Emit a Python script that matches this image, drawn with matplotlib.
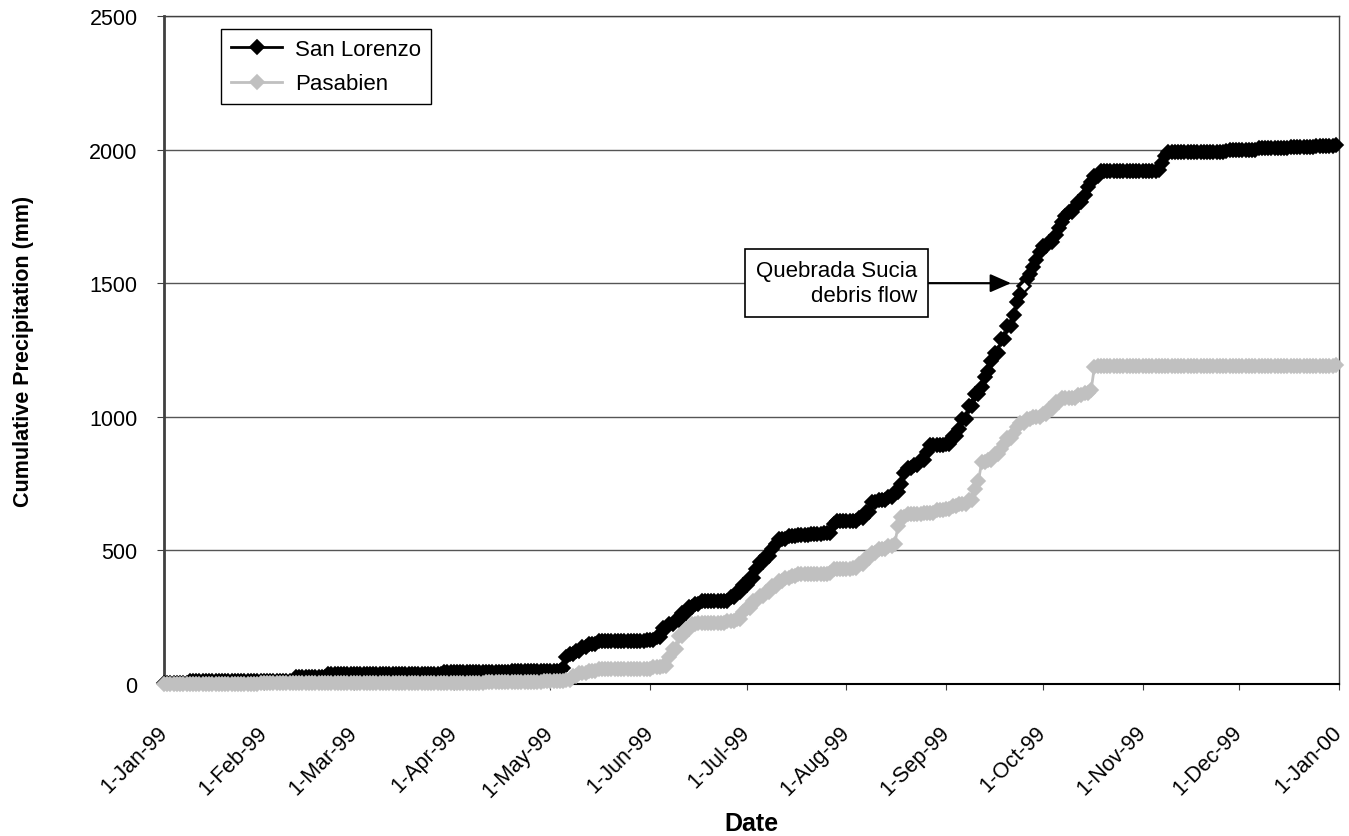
"""Cumulative precipitation in 1999 at San Lorenzo and Pasabien."""

import numpy as np
import pandas as pd
import matplotlib
matplotlib.use('Agg')
import matplotlib.pyplot as plt

plt.rcParams['font.family'] = ['Liberation Sans', 'DejaVu Sans']

# day of year (0 = 1-Jan-99) on which the running total changes, and the total after that day (mm)
sl_day = [0, 8, 41, 51, 87, 108, 124, 125, 126, 128, 130, 132, 135, 150, 153, 155, 157, 159, 161, 163,
          165, 167, 174, 176, 178, 180, 182, 184, 185, 187, 189, 190, 191, 194, 197, 201, 205, 208, 209,
          216, 218, 220, 222, 225, 227, 229, 230, 231, 233, 235, 237, 238, 243, 245, 247, 248, 250, 252,
          254, 255, 256, 257, 258, 260, 262, 264, 265, 266, 267, 268, 269, 270, 271, 272, 273, 275, 277,
          278, 279, 280, 281, 283, 284, 286, 287, 288, 289, 291, 309, 310, 311, 312, 330, 331, 340, 350,
          358, 364]
sl_total = [2, 10, 25, 38, 45, 50, 60, 100, 112, 125, 140, 150, 160, 165, 175, 210, 225, 240, 265, 288,
            300, 310, 312, 325, 345, 370, 395, 430, 455, 480, 505, 525, 543, 555, 557, 560, 565, 600, 610,
            620, 645, 680, 690, 700, 720, 750, 790, 810, 820, 840, 870, 895, 900, 930, 955, 990, 1040, 1085,
            1110, 1150, 1170, 1210, 1240, 1290, 1340, 1380, 1430, 1460, 1490, 1515, 1535, 1560, 1585, 1615,
            1640, 1655, 1680, 1705, 1730, 1750, 1765, 1785, 1805, 1830, 1860, 1880, 1900, 1920, 1925, 1950,
            1975, 1990, 1995, 2000, 2005, 2010, 2015, 2018]

pb_day = [0, 30, 60, 100, 118, 125, 127, 129, 132, 135, 148, 152, 155, 157, 158, 160, 162, 164, 166,
          175, 178, 180, 181, 183, 185, 187, 189, 191, 193, 195, 197, 207, 208, 214, 216, 218, 220, 222,
          225, 227, 228, 229, 231, 236, 240, 243, 245, 247, 250, 252, 253, 254, 256, 258, 260, 261, 262,
          264, 265, 266, 268, 270, 273, 275, 277, 279, 284, 286, 288, 289, 290, 364]
pb_total = [0, 3, 5, 8, 10, 15, 30, 40, 48, 55, 58, 62, 68, 100, 130, 180, 205, 225, 230,
            235, 245, 270, 285, 310, 330, 345, 365, 385, 395, 405, 410, 415, 430, 435, 450, 470, 490, 505,
            515, 525, 590, 625, 635, 640, 650, 655, 665, 675, 690, 730, 760, 830, 840, 860, 880, 900, 920,
            940, 960, 975, 990, 1000, 1010, 1030, 1055, 1070, 1080, 1090, 1100, 1185, 1190, 1192]

flow_day = 267  # Quebrada Sucia debris flow
labels = ['San Lorenzo', 'Pasabien']

dates = pd.date_range('1999-01-01', '1999-12-31', freq='D')


def daily(day, total):
    """Running total for every day of the year (no rain = total unchanged)."""
    s = pd.Series(total, index=day)
    return s.reindex(range(len(dates))).ffill().fillna(0).values


sl = daily(sl_day, sl_total)
pb = daily(pb_day, pb_total)

fig = plt.figure(figsize=(13.49, 8.37), dpi=100)
ax = fig.add_axes([164 / 1349, 1 - 685 / 837, 1175 / 1349, 668 / 837])

ax.plot(dates, sl, color='black', lw=2, marker='D', ms=7, mew=1.2, label=labels[0], zorder=3, clip_on=False)
ax.plot(dates, pb, color='#c0c0c0', lw=2, marker='D', ms=7, mew=1.2, label=labels[1], zorder=4, clip_on=False)
ax.plot(dates[flow_day], sl[flow_day], marker='D', ms=5, mfc='white', mec='black', mew=1, zorder=6)

ax.set_xlim(pd.Timestamp('1999-01-01'), pd.Timestamp('2000-01-01'))
ax.set_ylim(0, 2500)

ticks = pd.date_range('1999-01-01', '2000-01-01', freq='MS')
ax.set_xticks(ticks)
ax.set_xticklabels([f'{t.day}-{t:%b-%y}' for t in ticks], rotation=45, ha='right', va='center',
                   rotation_mode='anchor', fontsize=15.5)
ax.set_yticks(np.arange(0, 2501, 500))
ax.tick_params(axis='y', labelsize=15.5, length=5, pad=14, color='#404040')
ax.tick_params(axis='x', length=4.5, pad=28, color='#404040')

ax.yaxis.grid(True, color='#555555', lw=1)
ax.set_axisbelow(True)
for side in ['top', 'right']:
    ax.spines[side].set_color('#404040')
    ax.spines[side].set_linewidth(1)
ax.spines['left'].set_color('#404040')
ax.spines['left'].set_linewidth(2)
ax.spines['bottom'].set_color('black')
ax.spines['bottom'].set_linewidth(1.5)

ax.set_ylabel('Cumulative Precipitation (mm)', fontsize=15.5, fontweight='bold')
ax.yaxis.set_label_coords(-0.111, 0.5)
ax.set_xlabel('Date', fontsize=18, fontweight='bold')
ax.xaxis.set_label_coords(0.5, -0.19)

leg = ax.legend(loc='upper left', bbox_to_anchor=((221 - 164) / 1175, (685 - 30) / 668), borderaxespad=0,
                fontsize=16, fancybox=False, framealpha=1, edgecolor='black', handlelength=2.3,
                handletextpad=0.6, labelspacing=0.6, borderpad=0.45)
leg.get_frame().set_linewidth(1)

ax.annotate('Quebrada Sucia\ndebris flow', xy=(dates[flow_day], 1500),
            xytext=((917 - 164) / 1175, (685 - 284) / 668), textcoords='axes fraction',
            ha='right', va='center', multialignment='right', fontsize=16, zorder=7,
            bbox=dict(boxstyle='square,pad=0.5', fc='white', ec='black', lw=1.2),
            arrowprops=dict(arrowstyle='-|>,head_length=0.8,head_width=0.35', color='black', lw=1.5,
                            shrinkA=0, shrinkB=9))

fig.savefig('out.png', dpi=100)
